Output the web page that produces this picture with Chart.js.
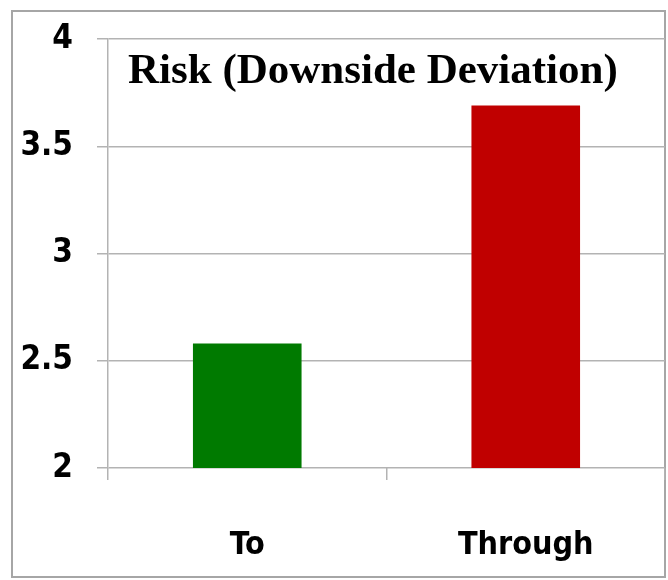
<!DOCTYPE html>
<html>
<head>
<meta charset="utf-8">
<script src="https://cdn.jsdelivr.net/npm/chart.js@4"></script>
<style>
  html, body { margin: 0; padding: 0; background: #fff; }
  #wrap { width: 668px; height: 580px; }
</style>
</head>
<body>
<div id="wrap"><canvas id="myChart" width="668" height="580"></canvas></div>
<script>
const labels = ['To', 'Through'];
const risk = [2.58, 3.69];
const barColors = ['#007a00', '#c00000'];
const chartTitle = 'Risk (Downside Deviation)';

const fontFamily = '"Liberation Sans Narrow", "DejaVu Sans Condensed", sans-serif';

// frame round the whole picture and the title inside the plot area
const extras = {
    id: 'extras',
    beforeDraw(chart) {
        const c = chart.ctx;
        c.save();
        c.fillStyle = '#fff';
        c.fillRect(0, 0, chart.width, chart.height);
        c.strokeStyle = '#a6a6a6';
        c.lineWidth = 2;
        c.strokeRect(12, 11, 653, 566);
        c.restore();
    },
    afterDraw(chart) {
        const c = chart.ctx;
        const a = chart.chartArea;
        c.save();
        c.font = 'bold 43px "Liberation Serif", "DejaVu Serif", serif';
        c.fillStyle = '#000';
        c.textBaseline = 'alphabetic';
        c.textAlign = 'left';
        c.fillText(chartTitle, 128, a.top + 44);
        c.restore();
    }
};

const ctx = document.getElementById('myChart').getContext('2d');
const myChart = new Chart(ctx, {
    type: 'bar',
    data: {
        labels: labels,
        datasets: [{
            data: risk,
            backgroundColor: barColors,
            borderWidth: 0,
            categoryPercentage: 1,
            barPercentage: 0.39
        }]
    },
    options: {
        responsive: false,
        animation: false,
        layout: { padding: { left: 0, top: 39, right: 3, bottom: 0 } },
        plugins: {
            legend: { display: false },
            title: { display: false },
            tooltip: { enabled: false }
        },
        scales: {
            y: {
                min: 2,
                max: 4,
                ticks: {
                    stepSize: 0.5, color: '#000', padding: 24,
                    font: { family: fontFamily, size: 33, weight: 'bold' },
                    callback: v => String(v)
                },
                grid: { color: '#b3b3b3', lineWidth: 1.5, tickLength: 11 },
                border: { display: true, color: '#b3b3b3', width: 1.5 },
                afterFit(scale) {
                    scale.width = 108;
                    scale.paddingTop = 0;
                    scale.paddingBottom = 0;
                }
            },
            x: {
                ticks: { color: '#000', padding: 46, font: { family: fontFamily, size: 32, weight: 'bold' } },
                grid: { display: true, drawOnChartArea: false, color: '#b3b3b3', lineWidth: 1.5, tickLength: 12, offset: true },
                border: { display: false },
                afterFit(scale) {
                    scale.height = 112;
                    scale.paddingLeft = 0;
                    scale.paddingRight = 0;
                }
            }
        }
    },
    plugins: [extras]
});
</script>
</body>
</html>
